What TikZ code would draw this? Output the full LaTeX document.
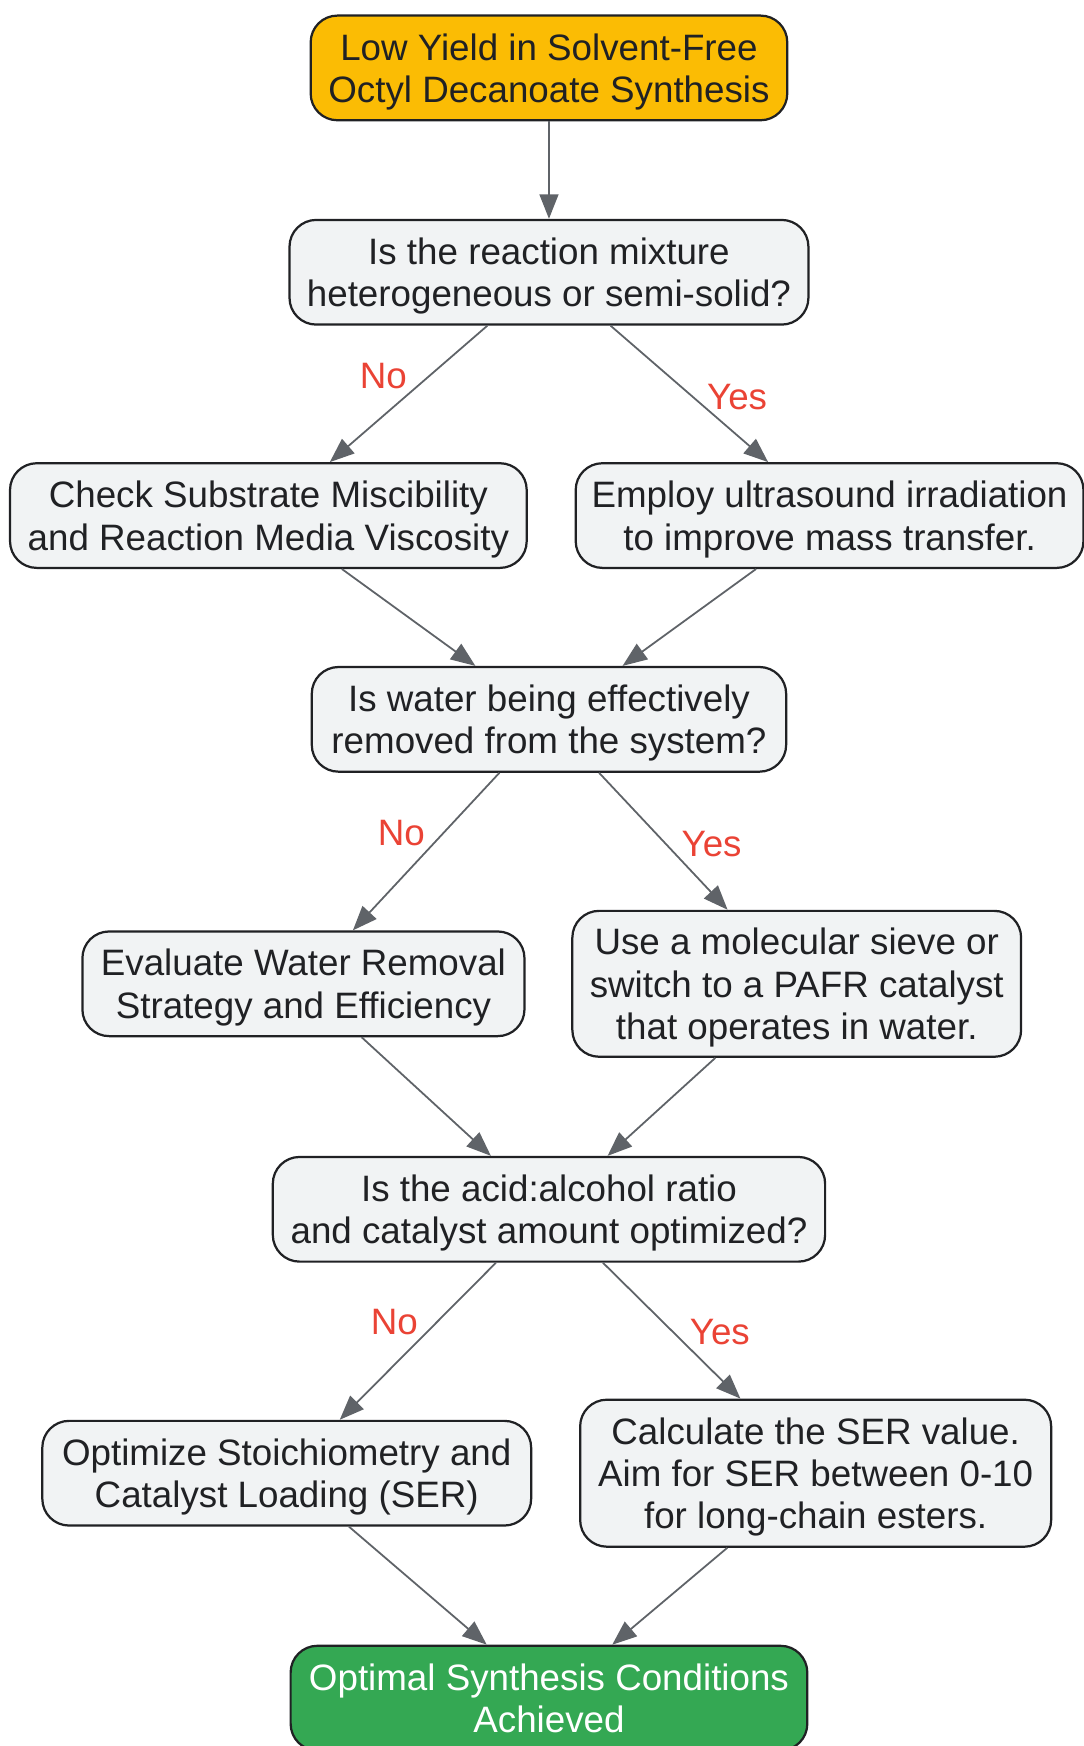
\documentclass[tikz,border=0pt]{standalone}
\usepackage{fontspec}
\setmainfont{Liberation Sans}
\usetikzlibrary{arrows.meta}
\definecolor{startfill}{HTML}{FBBC04}
\definecolor{stepfill}{HTML}{F1F3F4}
\definecolor{endfill}{HTML}{34A853}
\definecolor{edgegray}{HTML}{5F6368}
\definecolor{labelred}{HTML}{EA4335}
\definecolor{inkdark}{HTML}{202124}
\tikzset{
  flowbox/.style={draw=inkdark, line width=2pt, rounded corners=24pt, fill=stepfill,
    text=inkdark, align=center, minimum height=94pt, inner sep=4pt, text depth=-4.5pt,
    font=\fontsize{33}{38}\selectfont},
  flowline/.style={draw=edgegray, line width=1.6pt, -{Triangle[length=22pt,width=17pt]}},
  answer/.style={text=labelred, font=\fontsize{33}{38}\selectfont},
}

\begin{document}
\begin{tikzpicture}[x=1pt,y=-1pt]
\useasboundingbox (0,0) rectangle (973,1568);

% nodes
\node[flowbox, fill=startfill, minimum width=428pt] (start) at (493,61)
  {Low Yield in Solvent-Free\\Octyl Decanoate Synthesis};
\node[flowbox, minimum width=466pt] (mix) at (493,244.5)
  {Is the reaction mixture\\heterogeneous or semi-solid?};
\node[flowbox, minimum width=464pt] (misc) at (241,463)
  {Check Substrate Miscibility\\and Reaction Media Viscosity};
\node[flowbox, minimum width=456pt] (sono) at (745,463)
  {Employ ultrasound irradiation\\to improve mass transfer.};
\node[flowbox, minimum width=426pt] (water) at (493,646)
  {Is water being effectively\\removed from the system?};
\node[flowbox, minimum width=397pt] (evalw) at (272.5,883.5)
  {Evaluate Water Removal\\Strategy and Efficiency};
\node[flowbox, minimum width=403pt, minimum height=131pt] (sieve) at (715.5,883.5)
  {Use a molecular sieve or\\switch to a PAFR catalyst\\that operates in water.};
\node[flowbox, minimum width=496pt] (ratio) at (493,1086)
  {Is the acid:alcohol ratio\\and catalyst amount optimized?};
\node[flowbox, minimum width=439pt] (stoich) at (257.5,1323)
  {Optimize Stoichiometry and\\Catalyst Loading (SER)};
\node[flowbox, minimum width=423pt, minimum height=132pt] (ser) at (732.5,1323)
  {Calculate the SER value.\\Aim for SER between 0-10\\for long-chain esters.};
\node[flowbox, fill=endfill, text=white, minimum width=464pt] (done) at (493,1525)
  {Optimal Synthesis Conditions\\Achieved};

% connectors
\draw[flowline] (start) -- (mix);
\draw[flowline] (mix) -- node[answer, pos=0.37, xshift=-41pt] {No} (misc);
\draw[flowline] (mix) -- node[answer, pos=0.52, xshift=40pt] {Yes} (sono);
\draw[flowline] (misc) -- (water);
\draw[flowline] (sono) -- (water);
\draw[flowline] (water) -- node[answer, pos=0.38, xshift=-38pt] {No} (evalw);
\draw[flowline] (water) -- node[answer, pos=0.52, xshift=41pt] {Yes} (sieve);
\draw[flowline] (evalw) -- (ratio);
\draw[flowline] (sieve) -- (ratio);
\draw[flowline] (ratio) -- node[answer, pos=0.38, xshift=-38pt] {No} (stoich);
\draw[flowline] (ratio) -- node[answer, pos=0.51, xshift=42pt] {Yes} (ser);
\draw[flowline] (stoich) -- (done);
\draw[flowline] (ser) -- (done);

\end{tikzpicture}
\end{document}
